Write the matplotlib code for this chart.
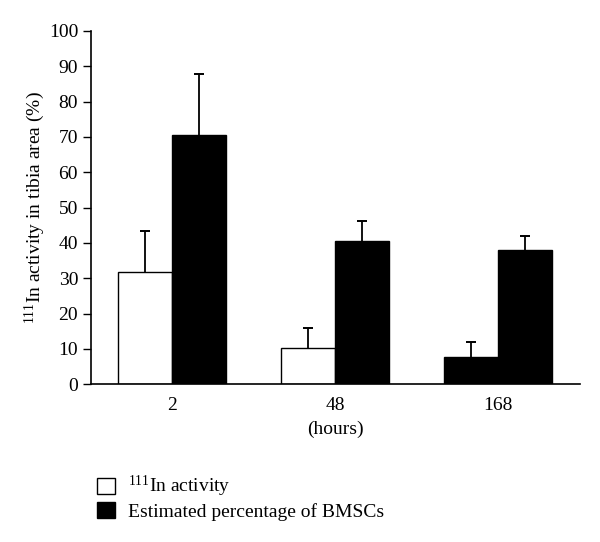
import numpy as np
import matplotlib
matplotlib.use('Agg')
import matplotlib.pyplot as plt
from matplotlib.patches import Patch

plt.rcParams['font.family'] = ['Liberation Serif', 'DejaVu Serif']
plt.rcParams['mathtext.fontset'] = 'custom'
plt.rcParams['mathtext.rm'] = 'Liberation Serif'
plt.rcParams['mathtext.it'] = 'Liberation Serif:italic'
plt.rcParams['mathtext.bf'] = 'Liberation Serif:bold'

hours = ['2', '48', '168']
in_activity = [31.9, 10.4, 7.7]
in_activity_err = [11.5, 5.5, 4.2]
bmsc_pct = [70.6, 40.6, 38.0]
bmsc_pct_err = [17.2, 5.7, 4.1]
# the last "In activity" bar is printed black in the original figure
in_colors = ['white', 'white', 'black']

fig = plt.figure(figsize=(6, 5.42), dpi=100)
ax = fig.add_axes([0.151, 0.291, 0.816, 0.652])

x = np.arange(len(hours))
w = 0.334

for pos, vals, errs, cols in [(x - w / 2, in_activity, in_activity_err, in_colors),
                              (x + w / 2, bmsc_pct, bmsc_pct_err, ['black'] * 3)]:
    ax.bar(pos, vals, w, color=cols, edgecolor='black', linewidth=1.0, zorder=2)
    tops = np.array(vals) + np.array(errs)
    ax.vlines(pos, vals, tops, color='black', linewidth=1.3, zorder=1)
    ax.plot(pos, tops, linestyle='none', marker='_', markersize=7,
            markeredgewidth=1.4, color='black', zorder=1)

ax.set_xlim(-0.5, 2.505)
ax.set_ylim(0, 100)
ax.set_yticks(np.arange(0, 101, 10))
ax.set_xticks(x)
ax.set_xticklabels(hours)
ax.tick_params(axis='y', direction='out', length=6, width=1, labelsize=14, pad=3)
ax.tick_params(axis='x', length=0, labelsize=14, pad=9)
for s in ['top', 'right']:
    ax.spines[s].set_visible(False)
ax.spines['left'].set_linewidth(1.2)
ax.spines['bottom'].set_linewidth(1.2)

ax.set_ylabel(r'$^{111}$In activity in tibia area (%)', fontsize=14, labelpad=1)
ax.set_xlabel('(hours)', fontsize=14, labelpad=5)

handles = [Patch(facecolor='white', edgecolor='black', linewidth=1.0),
           Patch(facecolor='black', edgecolor='black', linewidth=1.0)]
labels = [r'$^{111}$In activity', 'Estimated percentage of BMSCs']
fig.legend(handles, labels, loc='upper left', bbox_to_anchor=(0.162, 0.125),
           frameon=False, fontsize=14, handlelength=0.9, handleheight=0.9,
           handletextpad=0.7, labelspacing=0.12, borderaxespad=0, borderpad=0)

fig.savefig('out.png', dpi=100)
